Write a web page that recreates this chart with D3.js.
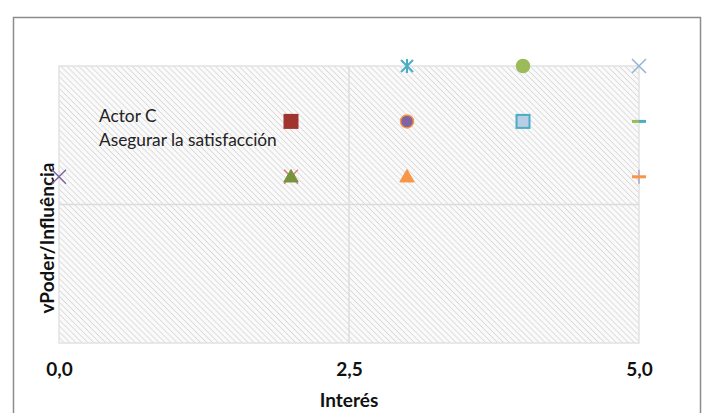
<!DOCTYPE html>
<html><head><meta charset="utf-8">
<script src="https://cdn.jsdelivr.net/npm/d3@7"></script>
<style>body{margin:0;background:#fff}svg{display:block}</style>
</head><body>
<svg id="c" width="704" height="413"></svg>
<script>
// ---- data ----
const seriesNames = ["S1","S2","S3","S4","S5","S6","S7","S8","S9","S10","S11","S12","S13","S14"];
const xValues = [0, 2, 2, 2, 3, 3, 3, 4, 4, 5, 5, 5, 5, 5];
const yValues = [3, 4, 3, 3, 5, 4, 3, 5, 4, 5, 4, 4, 3, 3];
const xTicks = [0, 2.5, 5];
const xTickLabels = ["0,0", "2,5", "5,0"];
const yDomain = [0, 5];
const xDomain = [0, 5];
const annotationLines = ["Actor C", "Asegurar la satisfacción"];
const xTitle = "Interés";
const yTitle = "vPoder/Influência";

// ---- styles (separate from data) ----
const markerTypes = ["x","square","x","triangle","asterisk","circle","triangle","circle","square","x","dashL","dashR","plus","dash"];
const fills   = ["none","#A0342F","none","#77933C","none","#8064A2","#F79646","#9BBB59","#B9CDE5","none","none","none","none","none"];
const strokes = ["#8064A2","#A0342F","#E07A78","#77933C","#4BACC6","#F79646","#F79646","#9BBB59","#4BACC6","#95B3D7","#9BBB59","#4BACC6","#B3A2C7","#F79646"];

const svg = d3.select("#c");
const W = 704, H = 413;
const m = {left: 59, right: 704-639, top: 66, bottom: 413-343};
const x = d3.scaleLinear().domain(xDomain).range([m.left, W - m.right]);
const y = d3.scaleLinear().domain(yDomain).range([H - m.bottom, m.top]);
const FONT = "Lato, 'Open Sans', sans-serif";

// outer border
svg.append("rect").attr("x", 13.5).attr("y", 17.5).attr("width", 700-13).attr("height", 430)
  .attr("fill", "none").attr("stroke", "#8c8c8c").attr("stroke-width", 1.5);

// hatch pattern
const defs = svg.append("defs");
const pat = defs.append("pattern").attr("id", "hatch").attr("patternUnits", "userSpaceOnUse")
  .attr("width", 4.2).attr("height", 4.2).attr("patternTransform", "rotate(-45)");
pat.append("rect").attr("width", 4.2).attr("height", 4.2).attr("fill", "#fafafa");
pat.append("line").attr("x1", 0).attr("y1", 0).attr("x2", 0).attr("y2", 4.2)
  .attr("stroke", "#c8c8c8").attr("stroke-width", 1.1);

svg.append("rect").attr("x", x(0)).attr("y", y(5)).attr("width", x(5) - x(0)).attr("height", y(0) - y(5))
  .attr("fill", "url(#hatch)").attr("stroke", "#e2e2e2").attr("stroke-width", 1.5);

// midlines
svg.append("line").attr("x1", x(0)).attr("x2", x(5)).attr("y1", y(2.5)).attr("y2", y(2.5))
  .attr("stroke", "#dcdcdc").attr("stroke-width", 1.5);
svg.append("line").attr("x1", x(2.5)).attr("x2", x(2.5)).attr("y1", y(0)).attr("y2", y(5))
  .attr("stroke", "#dcdcdc").attr("stroke-width", 1.5);

// x axis tick labels via d3 axis
const xAxis = d3.axisBottom(x).tickValues(xTicks).tickFormat((d, i) => xTickLabels[i]).tickSize(0).tickPadding(0);
const gx = svg.append("g").attr("transform", `translate(0, ${y(0) + 19})`).call(xAxis);
gx.select(".domain").remove();
gx.selectAll("text").attr("font-family", FONT).attr("font-weight", "bold")
  .attr("font-size", 19).attr("fill", "#111").attr("dy", "0.72em");

// axis titles
svg.append("text").attr("x", x(2.5)).attr("y", 407).attr("text-anchor", "middle")
  .attr("font-family", FONT).attr("font-weight", "bold").attr("font-size", 19)
  .attr("fill", "#111").text(xTitle);
svg.append("text").attr("transform", `translate(54, 238) rotate(-90)`).attr("text-anchor", "middle")
  .attr("font-family", FONT).attr("font-weight", "bold").attr("font-size", 19)
  .attr("fill", "#111").text(yTitle);

// annotation
annotationLines.forEach((t, i) => {
  svg.append("text").attr("x", 99).attr("y", 122 + i * 24)
    .attr("font-family", FONT).attr("font-size", 17.3).attr("fill", "#222").text(t);
});

// markers
const g = svg.append("g");
xValues.forEach((xv, i) => {
  const cx = x(xv), cy = y(yValues[i]);
  const t = markerTypes[i];
  const s = g.append("g").attr("transform", `translate(${cx},${cy})`);
  if (t === "square") {
    s.append("rect").attr("x", -6.5).attr("y", -6.5).attr("width", 13).attr("height", 13)
      .attr("fill", fills[i]).attr("stroke", strokes[i]).attr("stroke-width", 2);
  } else if (t === "circle") {
    s.append("circle").attr("r", 6.5).attr("fill", fills[i]).attr("stroke", strokes[i]).attr("stroke-width", 1.5);
  } else if (t === "triangle") {
    s.append("path").attr("d", d3.symbol(d3.symbolTriangle, 90)()).attr("transform", "translate(0,1)")
      .attr("fill", fills[i]).attr("stroke", strokes[i]).attr("stroke-width", 1);
  } else if (t === "x") {
    s.append("path").attr("d", "M-7,-7L7,7M7,-7L-7,7").attr("stroke", strokes[i]).attr("stroke-width", 1.5).attr("fill", "none");
  } else if (t === "asterisk") {
    s.append("path").attr("d", "M-6,-6L6,6M6,-6L-6,6M0,-7L0,7").attr("stroke", strokes[i]).attr("stroke-width", 2).attr("fill", "none");
  } else if (t === "dashL") {
    s.append("path").attr("d", "M-7,0L0,0").attr("stroke", strokes[i]).attr("stroke-width", 3);
  } else if (t === "dashR") {
    s.append("path").attr("d", "M0,0L7,0").attr("stroke", strokes[i]).attr("stroke-width", 3);
  } else if (t === "plus") {
    s.append("path").attr("d", "M0,-7L0,7").attr("stroke", strokes[i]).attr("stroke-width", 1.5);
  } else if (t === "dash") {
    s.append("path").attr("d", "M-7,0L7,0").attr("stroke", strokes[i]).attr("stroke-width", 3);
  }
});
</script>
</body></html>
